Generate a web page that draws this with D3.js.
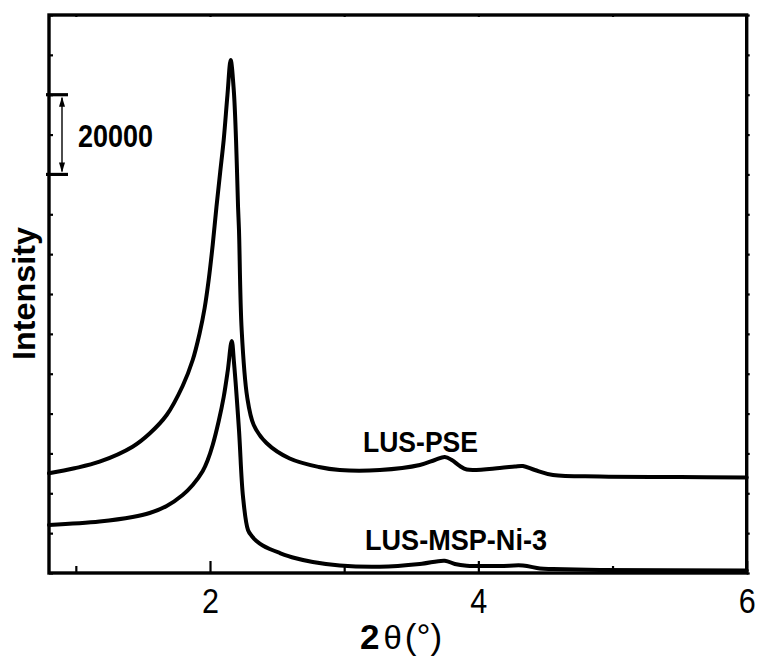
<!DOCTYPE html>
<html><head><meta charset="utf-8">
<script src="https://cdn.jsdelivr.net/npm/d3@7"></script>
<style>body{margin:0;background:#fff}</style>
</head><body>
<svg id="c" width="760" height="661"></svg>
<script>
// ---- data ----
const pseTheta = [0.8,0.99,1.177,1.423,1.55,1.677,1.796,1.871,1.923,1.96,1.99,2.02,2.048,2.076,2.102,2.13,2.154,2.177,2.194,2.209,2.216,2.236,2.277,2.326,2.421,2.594,2.811,2.967,3.266,3.564,3.676,3.75,3.802,3.862,3.914,4.16,4.272,4.332,4.421,4.556,4.906,5.503,6.0];
const pseIntensity = [25015,26270,27925,31690,35000,39640,46920,53440,60220,66490,73510,82300,91830,100610,108640,119930,128710,121180,108640,91830,86050,60970,44160,37130,32620,28730,26600,25840,25840,27100,28350,29100,28350,26850,25970,26340,26720,26850,25840,24590,24210,24090,23960];
const niTheta = [0.8,1.177,1.423,1.55,1.677,1.796,1.871,1.946,1.983,2.02,2.065,2.102,2.132,2.162,2.179,2.216,2.246,2.283,2.311,2.346,2.393,2.445,2.52,2.632,2.766,2.967,3.266,3.564,3.75,3.825,3.914,4.16,4.332,4.459,4.556,4.906,6.0];
const niIntensity = [12040,12920,14050,15050,16810,19570,22080,25590,28350,32120,38140,44160,50680,58210,52690,35880,19140,10790,9280,8030,6900,6020,5020,3760,2760,1880,1580,2260,3090,2260,1830,1760,1880,1130,1000,750,630];
const seriesNames = ["LUS-PSE", "LUS-MSP-Ni-3"];
const xMajorTicks = [2, 4, 6];
const xMinorTicks = [1, 3, 5];
const yTickValues = [0,10000,20000,30000,40000,50000,60000,70000,80000,90000,100000,110000,120000,130000,140000];
const scaleBarRange = [100000, 120000];
const scaleBarLabel = "20000";

// ---- layout ----
const svg = d3.select("#c");
const L = 49, R = 746.7, T = 15, B = 573;
const x = d3.scaleLinear().domain([0.8, 6]).range([L, R]);
const y = d3.scaleLinear().domain([0, 140000]).range([B, T]);
const font = "'Liberation Sans', Arial, sans-serif";

// curves
const line = d3.line().x(d => x(d[0])).y(d => y(d[1])).curve(d3.curveCatmullRom.alpha(0.5));
const series = [d3.zip(pseTheta, pseIntensity), d3.zip(niTheta, niIntensity)];
svg.append("g").selectAll("path").data(series).join("path")
  .attr("d", line).attr("fill", "none").attr("stroke", "#000")
  .attr("stroke-width", 4).attr("stroke-linejoin", "round").attr("stroke-linecap", "round");

// axes
const gx = svg.append("g").attr("transform", `translate(0,${B})`)
  .call(d3.axisBottom(x).tickValues(xMajorTicks).tickSize(-12).tickPadding(15).tickFormat(d3.format("d")));
const gxm = svg.append("g").attr("transform", `translate(0,${B})`)
  .call(d3.axisBottom(x).tickValues(xMinorTicks).tickSize(-7).tickFormat(""));
const gt = svg.append("g").attr("transform", `translate(0,${T})`)
  .call(d3.axisTop(x).tickValues(xMajorTicks.concat(xMinorTicks)).tickSize(-2).tickFormat(""));
const gy = svg.append("g").attr("transform", `translate(${L},0)`)
  .call(d3.axisLeft(y).tickValues(yTickValues).tickSize(-4).tickFormat(""));
const gr = svg.append("g").attr("transform", `translate(${R},0)`)
  .call(d3.axisRight(y).tickValues(yTickValues).tickSize(3).tickFormat(""));
[gx, gxm, gt, gy, gr].forEach(g => {
  g.select(".domain").remove();
  g.selectAll(".tick line").attr("stroke", "#000").attr("stroke-width", 2.2);
});
gx.selectAll(".tick text").attr("font-family", font).attr("font-size", 35).attr("fill", "#000")
  .attr("textLength", 17).attr("lengthAdjust", "spacingAndGlyphs");

// frame
svg.append("rect").attr("x", L).attr("y", T).attr("width", R - L).attr("height", B - T)
  .attr("fill", "none").attr("stroke", "#000").attr("stroke-width", 3.4);

// scale bar
const sbx = 62;
const sb = svg.append("g");
sb.selectAll("line.cap").data(scaleBarRange).join("line").attr("class", "cap")
  .attr("x1", 46).attr("x2", 68).attr("y1", d => y(d)).attr("y2", d => y(d))
  .attr("stroke", "#000").attr("stroke-width", 3.2);
sb.append("line").attr("x1", sbx).attr("x2", sbx)
  .attr("y1", y(scaleBarRange[1]) + 3).attr("y2", y(scaleBarRange[0]) - 3)
  .attr("stroke", "#000").attr("stroke-width", 1.4);
sb.append("path").attr("d", `M${sbx},${y(scaleBarRange[1]) + 2} l-3,10 l6,0 z`).attr("fill", "#000");
sb.append("path").attr("d", `M${sbx},${y(scaleBarRange[0]) - 2} l-3,-10 l6,0 z`).attr("fill", "#000");
sb.append("text").attr("x", 78).attr("y", 147).attr("font-family", font).attr("font-weight", "bold")
  .attr("font-size", 32).attr("textLength", 75).attr("lengthAdjust", "spacingAndGlyphs").text(scaleBarLabel);

// series labels
svg.append("text").attr("x", 363).attr("y", 452).attr("font-family", font).attr("font-weight", "bold")
  .attr("font-size", 29).attr("textLength", 115).attr("lengthAdjust", "spacingAndGlyphs").text(seriesNames[0]);
svg.append("text").attr("x", 365).attr("y", 550).attr("font-family", font).attr("font-weight", "bold")
  .attr("font-size", 30).attr("textLength", 182).attr("lengthAdjust", "spacingAndGlyphs").text(seriesNames[1]);

// axis titles
svg.append("text").attr("transform", "translate(35,293.5) rotate(-90)").attr("text-anchor", "middle")
  .attr("font-family", font).attr("font-weight", "bold").attr("font-size", 31)
  .attr("textLength", 133).attr("lengthAdjust", "spacingAndGlyphs").text("Intensity");
const xt = svg.append("text").attr("x", 360).attr("y", 649).attr("font-family", font).attr("font-size", 35);
xt.append("tspan").attr("font-weight", "bold").text("2");
xt.append("tspan").attr("dx", 4).attr("font-size", 33).text("θ");
xt.append("tspan").attr("dx", 3).text("(°)");
</script>
</body></html>
